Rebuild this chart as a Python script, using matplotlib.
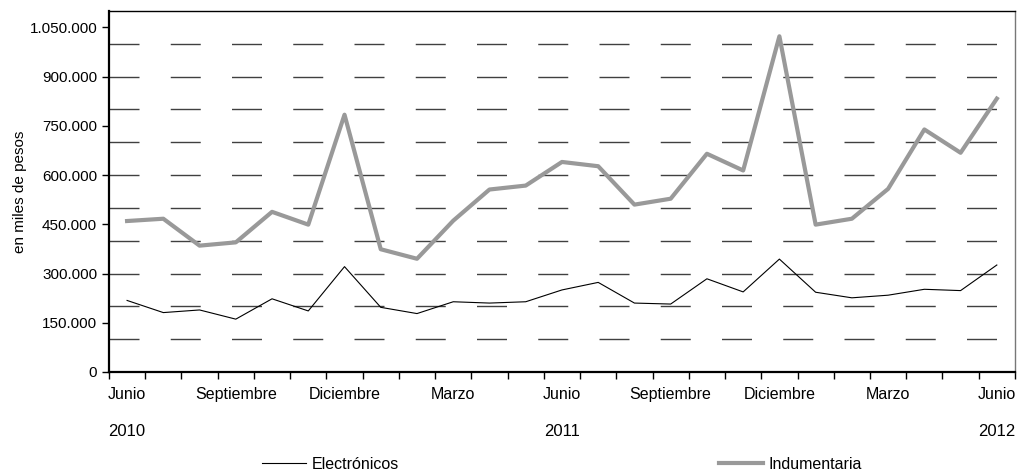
import matplotlib.pyplot as plt
from matplotlib.ticker import FuncFormatter

plt.rcParams['font.family'] = ['Liberation Sans', 'DejaVu Sans']

# meses junio 2010 .. junio 2012 (25 puntos)
meses = ['Junio', '', '', 'Septiembre', '', '', 'Diciembre', '', '', 'Marzo', '', '',
         'Junio', '', '', 'Septiembre', '', '', 'Diciembre', '', '', 'Marzo', '', '', 'Junio']
anios = {0: '2010', 12: '2011', 24: '2012'}

electronicos = [218000, 181000, 189000, 161000, 223000, 186000, 321000, 197000, 178000,
                214000, 210000, 214000, 250000, 273000, 210000, 207000, 284000, 244000,
                344000, 243000, 226000, 234000, 252000, 248000, 326000]
indumentaria = [460000, 467000, 385000, 395000, 488000, 449000, 784000, 374000, 345000,
                461000, 556000, 568000, 640000, 627000, 510000, 528000, 665000, 614000,
                1023000, 449000, 467000, 558000, 739000, 668000, 833000]

x = range(len(meses))

fig = plt.figure(figsize=(10.25, 4.72), dpi=100)
ax = fig.add_axes([0.1063, 0.2119, 0.8839, 0.7648])

# lineas de grilla cada 100.000, con trazos largos
ax.hlines(range(100000, 1100000, 100000), -0.5, len(meses) - 0.5, colors='#404040',
          linewidth=1, linestyles=(0, (21.6, 22.5)), zorder=1)

ax.plot(x, electronicos, color='black', linewidth=0.8, label='Electrónicos', zorder=3)
ax.plot(x, indumentaria, color='#999999', linewidth=3, label='Indumentaria', zorder=2)

ax.set_xlim(-0.5, len(meses) - 0.5)
ax.set_ylim(0, 1100000)
ax.set_yticks(range(0, 1050001, 150000))
ax.yaxis.set_major_formatter(FuncFormatter(lambda v, p: f'{int(v):,}'.replace(',', '.')))
ax.tick_params(axis='y', direction='out', length=5, width=1, labelsize=11)

ax.set_xticks([i - 0.5 for i in range(len(meses) + 1)])
ax.set_xticklabels([])
ax.tick_params(axis='x', which='major', direction='out', length=5, width=1)
ax.set_xticks(list(x), minor=True)
ax.set_xticklabels(meses, minor=True)
ax.tick_params(axis='x', which='minor', length=0, pad=11, labelsize=11.5)

for i, a in anios.items():
    ax.text(i, -0.165, a, transform=ax.get_xaxis_transform(), ha='center', va='center', fontsize=12)

ax.set_ylabel('en miles de pesos', fontsize=11)
ax.yaxis.set_label_coords(-0.091, 0.5)

for s in ['left', 'bottom']:
    ax.spines[s].set_linewidth(1.6)
ax.spines['top'].set_linewidth(1)
ax.spines['right'].set_linewidth(1)
ax.spines['right'].set_color('#777777')

ax.legend(loc='center', bbox_to_anchor=(0.5, -0.255), ncol=2, frameon=False, fontsize=11.5,
          handlelength=2.8, handletextpad=0.35, columnspacing=20)

plt.savefig('out.png', dpi=100)
